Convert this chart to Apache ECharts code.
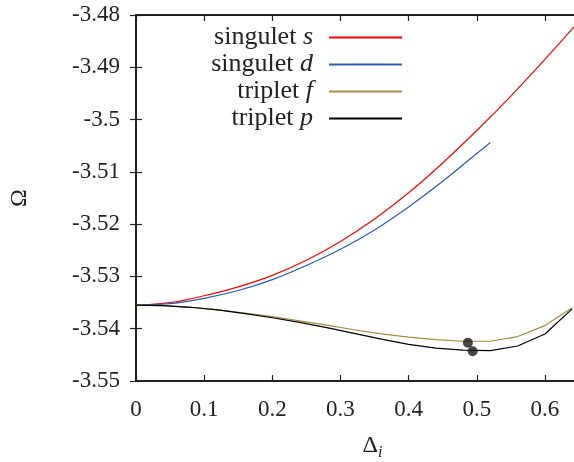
<!DOCTYPE html>
<html>
<head>
<meta charset="utf-8">
<script src="https://cdn.jsdelivr.net/npm/echarts@6/dist/echarts.min.js"></script>
<style>
  html, body { margin: 0; padding: 0; background: #fff; }
  #chart { width: 574px; height: 462px; }
</style>
</head>
<body>
<div id="chart"></div>
<script>
// singlet curves (smooth)
const xSinglet = [0, 0.05, 0.1, 0.15, 0.2, 0.25, 0.3, 0.35, 0.4, 0.45, 0.5, 0.55, 0.6, 0.65];
const singletS = [-3.5355, -3.5350, -3.5337, -3.5320, -3.5298, -3.5269, -3.5233, -3.5190, -3.5140, -3.5083, -3.5021, -3.4955, -3.4885, -3.4812];
const xSingletD = [0, 0.05, 0.1, 0.15, 0.2, 0.25, 0.3, 0.35, 0.4, 0.45, 0.5, 0.52];
const singletD = [-3.5355, -3.5352, -3.5342, -3.5327, -3.5306, -3.5279, -3.5248, -3.5211, -3.5167, -3.5118, -3.5065, -3.5044];

// triplet curves (sampled every 0.04)
const xTriplet = [0, 0.04, 0.08, 0.12, 0.16, 0.2, 0.24, 0.28, 0.32, 0.36, 0.4, 0.44, 0.48, 0.52, 0.56, 0.6, 0.64];
const tripletF = [-3.5355, -3.5356, -3.5359, -3.5364, -3.5370, -3.5377, -3.5385, -3.5393, -3.5402, -3.5410, -3.5416, -3.5421, -3.5424, -3.5424, -3.5415, -3.5394, -3.5360];
const tripletP = [-3.5355, -3.5356, -3.5359, -3.5364, -3.5371, -3.5379, -3.5388, -3.5398, -3.5409, -3.5420, -3.5430, -3.5437, -3.5441, -3.5442, -3.5433, -3.5410, -3.5362];

// minima markers
const minima = [[0.487, -3.5427], [0.494, -3.5443]];

const seriesNames = ['singulet s', 'singulet d', 'triplet f', 'triplet p'];
const seriesColors = ['#ff0000', '#2c5cae', '#a8883a', '#000000'];

const xTicks = [0, 0.1, 0.2, 0.3, 0.4, 0.5, 0.6];

const serif = 'Liberation Serif';

function pairs(xs, ys) {
    return xs.map((x, i) => [x, ys[i]]);
}

const chart = echarts.init(document.getElementById('chart'));

const axisLine = { show: true, lineStyle: { color: '#222', width: 2 } };
const tick = { show: true, inside: true, length: 6, lineStyle: { color: '#222', width: 1.2 } };

const option = {
    animation: false,
    grid: { left: 136, top: 15, bottom: 81, right: -5, outerBoundsMode: 'none', containLabel: false },
    legend: {
        orient: 'vertical',
        align: 'right',
        right: 167,
        top: 19,
        itemWidth: 73,
        itemHeight: 2,
        itemGap: 0,
        data: seriesNames.map(name => ({ name, icon: 'rect' })),
        textStyle: {
            fontFamily: serif,
            fontSize: 26,
            color: '#222',
            lineHeight: 27,
            padding: [0, 11, 0, 0],
            rich: {
                n: { fontFamily: serif, fontSize: 26, color: '#222', lineHeight: 27 },
                v: { fontFamily: serif, fontSize: 26, color: '#222', lineHeight: 27, fontStyle: 'italic' }
            }
        },
        formatter(name) {
            const parts = name.split(' ');
            return '{n|' + parts[0] + ' }{v|' + parts[1] + '}';
        }
    },
    xAxis: [
        {
            type: 'value',
            min: 0,
            max: 0.65,
            interval: 0.1,
            name: '{d|Δ}{i|i}',
            nameLocation: 'middle',
            nameGap: 50,
            nameTextStyle: {
                padding: [0, 0, 0, 30],
                rich: {
                    d: { fontFamily: serif, fontSize: 24, color: '#222' },
                    i: { fontFamily: serif, fontSize: 16, color: '#222', fontStyle: 'italic', verticalAlign: 'bottom', padding: [14, 0, 0, 0] }
                }
            },
            axisLine: axisLine,
            axisTick: tick,
            splitLine: { show: false },
            axisLabel: {
                margin: 17,
                fontFamily: serif,
                fontSize: 23,
                color: '#222',
                formatter(v) {
                    const k = Math.round(v * 10);
                    return xTicks.includes(k / 10) && Math.abs(v * 10 - k) < 1e-6 ? String(k / 10) : '';
                }
            }
        },
        {
            type: 'value',
            position: 'top',
            min: 0,
            max: 0.65,
            interval: 0.1,
            axisLine: axisLine,
            axisTick: tick,
            axisLabel: { show: false },
            splitLine: { show: false }
        }
    ],
    yAxis: [
        {
            type: 'value',
            min: -3.55,
            max: -3.48,
            interval: 0.01,
            name: 'Ω',
            nameLocation: 'middle',
            nameGap: 104,
            nameTextStyle: { fontFamily: serif, fontSize: 24, color: '#222' },
            axisLine: axisLine,
            axisTick: tick,
            splitLine: { show: false },
            axisLabel: {
                margin: 16,
                fontFamily: serif,
                fontSize: 23,
                color: '#222',
                formatter(v) {
                    return String(+v.toFixed(2));
                }
            }
        },
        {
            type: 'value',
            position: 'right',
            min: -3.55,
            max: -3.48,
            interval: 0.01,
            axisLine: axisLine,
            axisTick: tick,
            axisLabel: { show: false },
            splitLine: { show: false }
        }
    ],
    series: [
        {
            name: seriesNames[0],
            type: 'line',
            smooth: 0.4,
            symbol: 'none',
            data: pairs(xSinglet, singletS),
            lineStyle: { color: seriesColors[0], width: 1.2 },
            itemStyle: { color: seriesColors[0] }
        },
        {
            name: seriesNames[1],
            type: 'line',
            smooth: 0.4,
            symbol: 'none',
            data: pairs(xSingletD, singletD),
            lineStyle: { color: seriesColors[1], width: 1.2 },
            itemStyle: { color: seriesColors[1] }
        },
        {
            name: seriesNames[2],
            type: 'line',
            symbol: 'none',
            data: pairs(xTriplet, tripletF),
            lineStyle: { color: seriesColors[2], width: 1.2 },
            itemStyle: { color: seriesColors[2] }
        },
        {
            name: seriesNames[3],
            type: 'line',
            symbol: 'none',
            data: pairs(xTriplet, tripletP),
            lineStyle: { color: seriesColors[3], width: 1.2 },
            itemStyle: { color: seriesColors[3] }
        },
        {
            name: 'minima',
            type: 'scatter',
            symbolSize: 10,
            data: minima,
            itemStyle: { color: '#1a1a1a' },
            z: 5
        }
    ]
};

chart.setOption(option);
</script>
</body>
</html>
